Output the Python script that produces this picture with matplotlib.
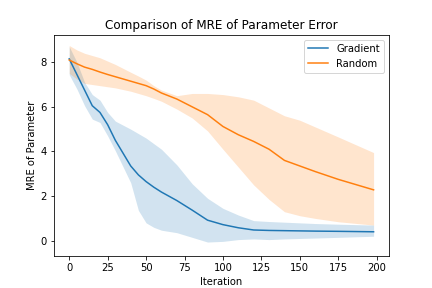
import matplotlib
matplotlib.use("Agg")
import matplotlib.pyplot as plt

iterations = [0, 5, 10, 15, 20, 25, 30, 40, 45, 50, 55, 60, 70, 80, 90, 100, 110, 120, 130, 140, 150, 160, 175, 198]

grad_mean = [8.15, 7.45, 6.75, 6.05, 5.75, 5.2, 4.5, 3.35, 2.95, 2.65, 2.4, 2.18, 1.8, 1.37, 0.92, 0.72, 0.58, 0.48, 0.46, 0.45, 0.44, 0.43, 0.42, 0.40]
grad_upper = [8.7, 8.0, 7.1, 6.55, 6.3, 5.75, 5.36, 5.0, 4.8, 4.6, 4.35, 4.1, 3.4, 2.55, 1.9, 1.45, 1.15, 0.9, 0.86, 0.83, 0.8, 0.77, 0.74, 0.70]
grad_lower = [7.44, 6.8, 6.05, 5.45, 5.3, 4.7, 4.03, 2.6, 1.36, 0.8, 0.6, 0.47, 0.36, 0.15, -0.06, -0.03, 0.05, 0.08, 0.05, 0.08, 0.1, 0.12, 0.15, 0.2]

rand_mean = [8.1, 7.93, 7.78, 7.68, 7.56, 7.45, 7.35, 7.15, 7.05, 6.95, 6.8, 6.62, 6.35, 6.0, 5.65, 5.12, 4.75, 4.45, 4.1, 3.6, 3.35, 3.1, 2.75, 2.28]
rand_upper = [8.75, 8.55, 8.4, 8.3, 8.2, 8.05, 7.9, 7.55, 7.38, 7.2, 6.95, 6.75, 6.5, 6.6, 6.6, 6.55, 6.45, 6.3, 5.95, 5.6, 5.4, 5.1, 4.65, 3.95]
rand_lower = [7.5, 7.25, 7.05, 7.0, 6.95, 6.9, 6.85, 6.7, 6.6, 6.5, 6.38, 6.25, 5.9, 5.5, 4.92, 4.1, 3.3, 2.5, 1.85, 1.3, 1.12, 1.0, 0.85, 0.7]

fig, ax = plt.subplots(figsize=(6, 4), dpi=72)
ax.plot(iterations, grad_mean, color="#1f77b4", label="Gradient")
ax.fill_between(iterations, grad_lower, grad_upper, color="#1f77b4", alpha=0.2, linewidth=0)
ax.plot(iterations, rand_mean, color="#ff7f0e", label="Random")
ax.fill_between(iterations, rand_lower, rand_upper, color="#ff7f0e", alpha=0.2, linewidth=0)

ax.set_title("Comparison of MRE of Parameter Error")
ax.set_xlabel("Iteration")
ax.set_ylabel("MRE of Parameter")
ax.set_xticks([0, 25, 50, 75, 100, 125, 150, 175, 200])
ax.set_ylim(-0.70, 9.24)
ax.legend(loc="upper right")
fig.savefig("out.png", dpi=72)
